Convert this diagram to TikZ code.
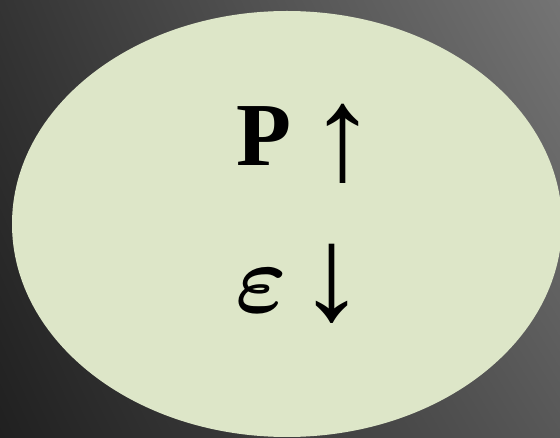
\documentclass[tikz,border=0pt]{standalone}
\usepackage{fontspec}
\usepackage{unicode-math}
\usetikzlibrary{shadings}
\setmainfont{Liberation Serif}
\setmathfont{Latin Modern Math}
\definecolor{bgTL}{RGB}{52,52,52}
\definecolor{bgTR}{RGB}{116,116,116}
\definecolor{bgBL}{RGB}{32,32,32}
\definecolor{bgBR}{RGB}{88,88,88}
\definecolor{blob}{RGB}{221,230,200}
\tikzset{
  bigsym/.style={inner sep=0pt, anchor=base, font=\fontsize{96}{96}\selectfont, text=black},
  arrowsym/.style={bigsym, font=\fontsize{134}{134}\selectfont},
}
\begin{document}
\begin{tikzpicture}[x=1pt,y=-1pt]
\useasboundingbox (0,0) rectangle (560,438);
\shade[upper left=bgTL, upper right=bgTR, lower left=bgBL, lower right=bgBR] (0,0) rectangle (560,438);
\fill[blob] (287,224) ellipse [x radius=275, y radius=213];
\node[bigsym, font=\fontsize{90}{90}\selectfont] (P) at (264,166) {\textbf{P}};
\node[arrowsym] (up) at (343,180) {↑};
\node[bigsym, font=\fontsize{98}{98}\selectfont] (eps) at (261,313) {$\symbfit{\varepsilon}$};
\node[arrowsym] (down) at (332,320) {↓};
\end{tikzpicture}
\end{document}
